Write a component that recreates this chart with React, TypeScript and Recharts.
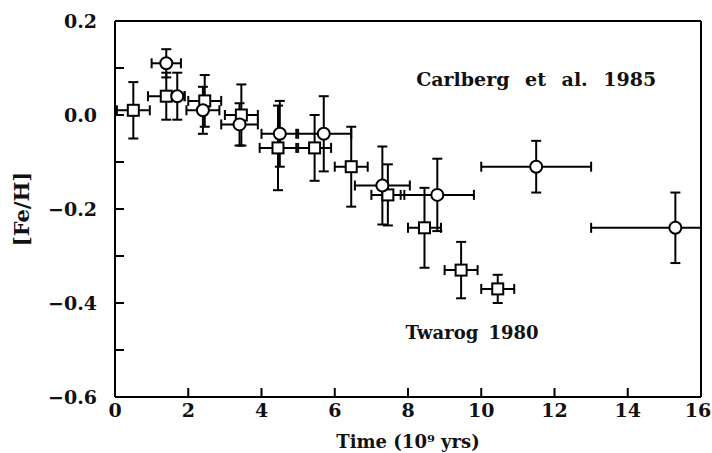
import { ScatterChart, Scatter, XAxis, YAxis, ErrorBar, ReferenceDot } from 'recharts';

// Carlberg et al. 1985 (circles)
const carlbergTime = [1.4, 1.7, 2.4, 3.4, 4.5, 5.7, 7.3, 8.8, 11.5, 15.3];
const carlbergFeH = [0.11, 0.04, 0.01, -0.02, -0.04, -0.04, -0.15, -0.17, -0.11, -0.24];
// [lower, upper] time errors; the last one runs off the right edge of the frame
const carlbergTimeErr = [[0.4, 0.4], [0.2, 0.2], [0.45, 0.45], [0.5, 0.5], [0.5, 0.5], [0.75, 0.75], [0.75, 0.75], [1.0, 1.0], [1.5, 1.5], [2.3, 0.7]];
const carlbergFeHErr = [0.03, 0.05, 0.05, 0.045, 0.07, 0.08, 0.083, 0.077, 0.055, 0.075];

// Twarog 1980 (squares)
const twarogTime = [0.5, 1.4, 2.45, 3.45, 4.45, 5.45, 6.45, 7.45, 8.45, 9.45, 10.45];
const twarogFeH = [0.01, 0.04, 0.03, 0.0, -0.07, -0.07, -0.11, -0.17, -0.24, -0.33, -0.37];
const twarogTimeErr = [0.45, 0.5, 0.45, 0.45, 0.5, 0.45, 0.45, 0.45, 0.45, 0.45, 0.45];
const twarogFeHErr = [0.06, 0.05, 0.055, 0.065, 0.09, 0.07, 0.085, 0.065, 0.085, 0.06, 0.03];

const xTicks = [0, 2, 4, 6, 8, 10, 12, 14, 16];
const yTicks = [-0.6, -0.5, -0.4, -0.3, -0.2, -0.1, 0, 0.1, 0.2];

const carlberg = carlbergTime.map((t, i) => ({
  t,
  feh: carlbergFeH[i],
  et: carlbergTimeErr[i],
  ef: carlbergFeHErr[i],
}));
const twarog = twarogTime.map((t, i) => ({
  t,
  feh: twarogFeH[i],
  et: twarogTimeErr[i],
  ef: twarogFeHErr[i],
}));

const FONT = '"DejaVu Serif", "Liberation Serif", serif';

const fmtY = (v: number) => {
  const k = Math.round(v * 10);
  if (k % 2 !== 0) return '';
  return k < 0 ? '\u2212' + Math.abs(v).toFixed(1) : v.toFixed(1);
};

const Circle = (p: any) => (
  <circle cx={p.cx} cy={p.cy} r={6} fill="#fff" stroke="#000" strokeWidth={2} />
);
const Square = (p: any) => (
  <rect x={p.cx - 5.5} y={p.cy - 5.5} width={11} height={11} fill="#fff" stroke="#000" strokeWidth={2} />
);
const Nothing = () => <g />;

const tickStyle = { fontFamily: FONT, fontSize: 19, fontWeight: 700, fill: '#111' };
const textStyle = { fontFamily: FONT, fontSize: 19, fontWeight: 700, fill: '#111' };
const frame = { stroke: '#000', strokeWidth: 2 };

// x tick label; the last one is nudged so it stays inside the page
const XTick = (p: any) => {
  const last = p.payload.value === xTicks[xTicks.length - 1];
  return (
    <text x={p.x} y={p.y} dx={last ? -3 : 0} dy="0.71em" textAnchor="middle" style={tickStyle}>
      {p.payload.value}
    </text>
  );
};

export default function App() {
  return (
    <div style={{ position: 'absolute', left: 0, top: 0, background: '#fff' }}>
      <ScatterChart width={712} height={453} margin={{ top: 20, right: 10, bottom: 0, left: 0 }}>
        <XAxis
          xAxisId="b"
          type="number"
          dataKey="t"
          domain={[0, 16]}
          ticks={xTicks}
          allowDataOverflow
          height={56}
          tickSize={-9}
          tickMargin={16}
          axisLine={frame}
          tickLine={frame}
          tick={XTick}
          label={{ value: 'Time (10\u2079 yrs)', position: 'insideBottom', offset: 5, style: { ...textStyle, fontSize: 18 } }}
        />
        <XAxis
          xAxisId="t"
          orientation="top"
          type="number"
          dataKey="t"
          domain={[0, 16]}
          ticks={xTicks}
          allowDataOverflow
          height={1}
          tickSize={-9}
          tick={false}
          axisLine={frame}
          tickLine={frame}
        />
        <YAxis
          yAxisId="l"
          type="number"
          dataKey="feh"
          domain={[-0.6, 0.2]}
          ticks={yTicks}
          allowDataOverflow
          width={115}
          tickSize={-9}
          tickMargin={27}
          tickFormatter={fmtY}
          axisLine={frame}
          tickLine={frame}
          tick={tickStyle}
          label={{ value: '[Fe/H]', angle: -90, position: 'insideLeft', offset: 22, style: { ...textStyle, fontSize: 21, textAnchor: 'middle' } }}
        />
        <YAxis
          yAxisId="r"
          orientation="right"
          type="number"
          dataKey="feh"
          domain={[-0.6, 0.2]}
          ticks={yTicks}
          allowDataOverflow
          width={1}
          tickSize={-9}
          tick={false}
          axisLine={frame}
          tickLine={frame}
        />
        {/* invisible series so the top and right frame axes are drawn */}
        <Scatter data={twarog} xAxisId="t" yAxisId="r" shape={Nothing} isAnimationActive={false} />
        <Scatter data={twarog} xAxisId="b" yAxisId="l" shape={Square} isAnimationActive={false}>
          <ErrorBar dataKey="et" direction="x" width={5} stroke="#000" strokeWidth={2} />
          <ErrorBar dataKey="ef" direction="y" width={5} stroke="#000" strokeWidth={2} />
        </Scatter>
        <Scatter data={carlberg} xAxisId="b" yAxisId="l" shape={Circle} isAnimationActive={false}>
          <ErrorBar dataKey="et" direction="x" width={5} stroke="#000" strokeWidth={2} />
          <ErrorBar dataKey="ef" direction="y" width={5} stroke="#000" strokeWidth={2} />
        </Scatter>
        <ReferenceDot
          xAxisId="b"
          yAxisId="l"
          x={11.5}
          y={0.077}
          r={0}
          fill="none"
          stroke="none"
          label={{ value: 'Carlberg et al. 1985', position: 'center', style: { ...textStyle, wordSpacing: 9 } }}
        />
        <ReferenceDot
          xAxisId="b"
          yAxisId="l"
          x={9.75}
          y={-0.462}
          r={0}
          fill="none"
          stroke="none"
          label={{ value: 'Twarog 1980', position: 'center', style: { ...textStyle, fontSize: 18, wordSpacing: 4 } }}
        />
      </ScatterChart>
    </div>
  );
}
